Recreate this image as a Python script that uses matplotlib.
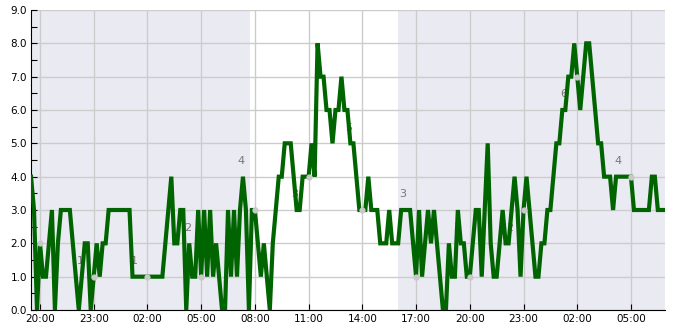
"""This file draws the activity level over a day and a half with night shading."""

import pandas as pd
import matplotlib
matplotlib.use("Agg")
import matplotlib.pyplot as plt
import matplotlib.dates as mdates

# activity level, one reading every 10 minutes from 19:30
levels = [4, 3, 0, 2, 1, 1, 2, 3, 0, 2, 3, 3, 3, 3, 2, 1, 0, 1, 2, 2, 0, 1,
          2, 1, 2, 2, 3, 3, 3, 3, 3, 3, 3, 3, 1, 1, 1, 1, 1, 1,
          1, 1, 1, 1, 1, 2, 3, 4, 2, 2, 3, 3, 0, 2, 1, 1, 3, 1,
          3, 1, 3, 1, 2, 1, 0, 0, 3, 1, 3, 1, 3, 4, 3, 0, 3, 3,
          2, 1, 2, 1, 0, 2, 3, 4, 4, 5, 5, 5, 4, 3, 3, 4, 4, 4,
          5, 4, 8, 7, 7, 6, 6, 5, 6, 6, 7, 6, 6, 5, 5, 4, 3, 3,
          3, 4, 3, 3, 3, 2, 2, 2, 3, 2, 2, 2, 3, 3, 3, 3, 2, 1,
          3, 1, 2, 3, 2, 3, 2, 1, 0, 0, 2, 1, 1, 3, 2, 2, 1, 1,
          2, 3, 3, 1, 3, 5, 2, 1, 1, 2, 3, 2, 2, 3, 4, 3, 1, 3,
          4, 3, 2, 1, 1, 2, 2, 3, 3, 4, 5, 5, 6, 6, 7, 7, 8, 7,
          6, 7, 8, 8, 7, 6, 5, 5, 4, 4, 4, 3, 4, 4, 4, 4, 4, 4,
          3, 3, 3, 3, 3, 3, 4, 4, 3, 3, 3]

# three-hourly checkpoints and the numbers written next to them
checkpoint_values = [2, 1, 1, 1, 3, 4, 3, 1, 1, 3, 7, 4]
checkpoint_labels = [None, 1, 1, 2, 4, 3, 5, 3, 2, 2, 6, 4]

# night periods (shaded)
night_spans = [("2020-01-01 19:30", "2020-01-02 07:45"),
               ("2020-01-02 16:00", "2020-01-03 06:54")]


def main():
    times = pd.date_range("2020-01-01 19:30", periods=len(levels), freq="10min")
    checkpoints = pd.date_range("2020-01-01 20:00", periods=len(checkpoint_values), freq="3h")

    fig = plt.figure(figsize=(6.85, 3.3), dpi=100)
    ax = fig.add_axes([0.0453, 0.0606, 0.9255, 0.9091])

    for start, end in night_spans:
        ax.axvspan(pd.Timestamp(start), pd.Timestamp(end), color="#eaeaf2", lw=0, zorder=0)

    ax.grid(True, color="#cccccc", lw=1, zorder=1)
    ax.set_axisbelow(True)

    # numbers beside the checkpoints sit under the line
    for t, lab in zip(checkpoints, checkpoint_labels):
        if lab is None:
            continue
        ax.text(t - pd.Timedelta(minutes=45), lab + 0.47, str(lab), color="#777777",
                fontsize=8, ha="center", va="center", zorder=2)

    ax.plot(times, levels, color="#006400", lw=3.0, solid_joinstyle="miter", zorder=3)
    ax.plot(checkpoints, checkpoint_values, "o", color="#c8c8c8", ms=4.5, mew=0, zorder=4)

    ax.set_xlim(pd.Timestamp("2020-01-01 19:30"), pd.Timestamp("2020-01-03 06:54"))
    ax.set_ylim(0, 9)
    ax.set_yticks(range(10))
    ax.set_yticklabels([f"{v:.1f}" for v in range(10)])
    ax.set_yticks([v + 0.5 for v in range(9)], minor=True)
    ax.xaxis.set_major_locator(mdates.HourLocator(byhour=[2, 5, 8, 11, 14, 17, 20, 23]))
    ax.xaxis.set_major_formatter(mdates.DateFormatter("%H:%M"))

    ax.tick_params(axis="both", which="both", direction="in", length=4, width=0.8,
                   labelsize=7.5, colors="black")
    ax.tick_params(axis="x", pad=3)
    ax.tick_params(axis="y", pad=3)
    ax.spines["top"].set_visible(False)
    ax.spines["right"].set_visible(False)

    fig.savefig("out.png", dpi=100)


if __name__ == "__main__":
    main()
